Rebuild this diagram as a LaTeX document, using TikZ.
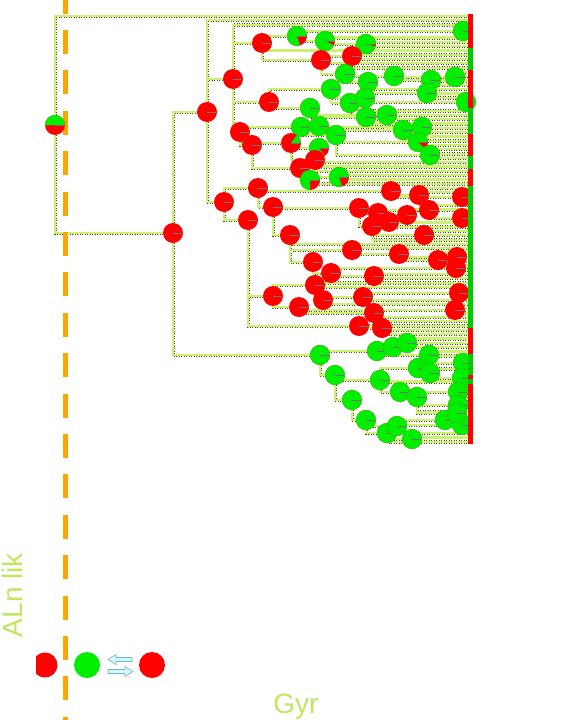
\documentclass[tikz,border=0pt]{standalone}
\usepackage{fontspec}
\setmainfont{Liberation Sans}
\definecolor{br}{RGB}{204,240,112}
\definecolor{brd}{RGB}{70,80,40}
\definecolor{pr}{RGB}{255,0,0}
\definecolor{pg}{RGB}{0,238,0}
\definecolor{lab}{RGB}{190,230,95}
\definecolor{org}{RGB}{255,165,0}
\definecolor{arf}{RGB}{215,248,248}
\definecolor{ard}{RGB}{110,185,195}
\tikzset{
  under/.style={brd, line width=3.3pt, dash pattern=on 1pt off 1.5pt},
  over/.style={br, line width=2.2pt},
  labtext/.style={lab, font=\fontsize{28}{30}\selectfont, inner sep=0pt},
  legdot/.style={circle, inner sep=0pt, minimum size=26pt},
  arrowshape/.style={draw=ard, fill=arf, line width=0.6pt, line join=miter}
}
\newcommand{\mypie}[4]{%
  \fill[pr] (#1) circle[radius=#3];
  \fill[pg] (#1) -- ++(0:#3) arc[start angle=0, end angle={-360*#2}, radius=#3] -- cycle;
  \draw[black!55, line width=0.5pt] (#1) -- ++(0:{0.85*#3});
}
\def\pielist{R0/55/125/0.5, N1/173/233/0, N2/207/112/0, N3/320/355/1, N5/224/202/0,
 p1/262/43/0, p2/297/36/0.8, p3/325/41/0.93, p4/366/44/0.96, p5/463/31/1, p6/321/60/0,
 p7/352/56/0, p8/233/79/0, p9/345/74/1, p10/368/82/1, p11/394/76/1, p12/431/80/1,
 p13/455/77/1, p14/331/89/1, p15/427/93/1, p16/466/102/1, p17/269/102/0, p18/350/103/1,
 p19/365/98/1, p20/310/108/1, p21/366/117/1, p22/387/115/1, p23/240/132/0, p24/252/145/0,
 p25/301/127/1, p26/319/126/1, p27/336/135/1, p28/403/130/1, p29/422/127/1, p30/418/142/0.88,
 p31/430/155/1, p32/291/143/0.15, p33/319/148/0.85, p34/300/168/0, p35/315/160/0,
 p36/310/180/0.75, p37/339/177/0.8,
 q1/258/188/0, q2/273/207/0, q3/248/220/0, q4/290/235/0, q5/391/191/0, q6/419/195/0,
 q7/462/197/0, q8/359/208/0, q9/378/213/0, q10/389/222/0, q11/372/226/0, q12/407/215/0,
 q13/429/210/0, q14/424/235/0, q15/462/218/0, q16/399/254/0, q17/352/250/0, q18/313/262/0,
 q19/331/273/0, q20/374/276/0, q21/438/260/0, q22/457/257/0, q23/456/268/0, q24/273/296/0,
 q25/299/307/0, q26/315/285/0, q27/323/300/0, q28/363/297/0, q29/374/313/0, q30/382/328/0,
 q31/359/326/0, q32/459/293/0, q33/455/310/0,
 r1/377/351/1, r2/393/347/1, r3/407/343/1, r4/429/355/1, r5/335/375/1, r6/380/380/1,
 r7/418/368/1, r8/430/373/1, r9/463/363/1, r10/462/378/1, r11/352/400/1, r12/400/392/1,
 r13/417/397/1, r14/458/392/1, r15/458/405/1, r16/366/420/1, r17/387/433/1, r18/397/426/1,
 r19/412/439/1, r20/445/420/1, r21/462/425/1, r22/457/413/1}
\def\edgelist{R0/N1, N1/N2, N1/N3, N2/p8, N2/N5, p8/p1, p8/p17, p8/p23, p1/p2, p1/p6,
 p2/p5, p2/p3, p3/p4, p6/p7, p6/p9, p9/p11, p9/p10, p11/p12, p11/p13, p10/p15, p17/p14,
 p17/p20, p14/p18, p14/p19, p19/p16, p20/p21, p20/p22, p23/p24, p23/p25, p25/p26, p25/p27,
 p26/p28, p26/p29, p27/p30, p27/p31, p24/p32, p24/p34, p32/p33, p32/p35, p34/p36, p34/p37,
 N5/q1, N5/q3, q1/q2, q1/q5, q5/q6, q5/q7, q2/q8, q2/q4, q8/q9, q8/q11, q9/q12, q9/q13,
 q13/q15, q11/q10, q11/q14, q4/q17, q4/q18, q17/q16, q16/q21, q16/q22, q18/q19, q19/q20,
 q19/q23, q3/q24, q3/q31, q24/q25, q24/q26, q26/q27, q26/q28, q28/q32, q25/q29, q25/q33,
 q31/q30,
 N3/r1, N3/r5, r1/r2, r1/r4, r2/r3, r5/r6, r5/r11, r6/r7, r6/r12, r7/r8, r7/r9, r8/r10,
 r12/r13, r12/r14, r13/r15, r13/r22, r11/r16, r16/r17, r16/r18, r18/r20, r18/r21, r17/r19}
\def\tiplist{0/R0/1, 1/N2/1, 2/p8/1, 3/p5/1, 4/p5/1, 5/p3/1, 6/p4/1, 7/p4/1, 8/p1/0,
 9/p7/0, 10/p7/0, 11/p6/0, 12/p9/0, 13/p13/1, 14/p13/1, 15/p12/1, 16/p12/1, 17/p10/1,
 18/p15/1, 19/p15/1, 20/p16/1, 21/p16/1, 22/p19/0, 23/p18/0, 24/p21/0, 25/p21/0, 26/p22/0,
 27/p29/0, 28/p29/1, 29/p28/1, 30/p30/1, 31/p30/1, 32/p31/1, 33/p31/0, 34/p33/0, 35/p35/0,
 36/p35/1, 37/p37/1, 38/p37/1, 39/p36/1, 40/q6/0, 41/q6/0, 42/q7/0, 43/q7/0, 44/q13/0,
 45/q12/0, 46/q15/0, 47/q15/0, 48/q10/0, 49/q10/0, 50/q14/0, 51/q14/0, 52/q11/0, 53/q4/0,
 54/q17/0, 55/q21/0, 56/q21/0, 57/q22/0, 58/q23/0, 59/q23/0, 60/q20/0, 61/q20/0, 62/q18/0,
 63/q26/0, 64/q32/0, 65/q32/0, 66/q28/0, 67/q27/0, 68/q33/0, 69/q33/0, 70/q29/0, 71/q29/0,
 72/q31/0, 73/q30/1, 74/q30/1, 75/r3/1, 76/r3/1, 77/r2/1, 78/r4/1, 79/r4/0, 80/r9/0,
 81/r9/0, 82/r8/0, 83/r10/0, 84/r10/1, 85/r6/0, 86/r14/1, 87/r14/1, 88/r15/1, 89/r15/1,
 90/r22/1, 91/r22/1, 92/r13/1, 93/r20/1, 94/r20/1, 95/r21/1, 96/r21/1, 97/r19/1, 98/r19/1,
 99/r17/1}
\begin{document}
\begin{tikzpicture}[x=1pt,y=-1pt]
\useasboundingbox (0,0) rectangle (561,720);
% coordinates
\foreach \n/\x/\y/\g in \pielist { \coordinate (\n) at (\x,\y); }
\foreach \i/\p/\c in \tiplist { \coordinate (t\i) at (470,{16+4.3*\i}); }
% branches: dark dotted edge then light fill
\foreach \a/\b in \edgelist { \draw[under, transform canvas={xshift=0.4pt,yshift=-0.4pt}] (\a) |- (\b); }
\foreach \i/\p/\c in \tiplist { \draw[under, transform canvas={xshift=0.4pt,yshift=-0.4pt}] (\p) |- (t\i); }
\foreach \a/\b in \edgelist { \draw[over] (\a) |- (\b); }
\foreach \i/\p/\c in \tiplist { \draw[over] (\p) |- (t\i); }
% time axis line
\draw[org, line width=5pt, dash pattern=on 24pt off 16.4pt] (65,-10.4) coordinate (oa) -- (65,730) coordinate (ob);
% pies
\foreach \n/\x/\y/\g in \pielist { \mypie{\n}{\g}{10}{} }
% tip state strip
\foreach \i/\p/\c in \tiplist {
  \ifnum\c=1 \fill[pr] ([xshift=-2pt,yshift=-2.2pt]t\i) rectangle ([xshift=2.5pt,yshift=2.2pt]t\i);
  \else \fill[pg!85!black] ([xshift=-2pt,yshift=-2.2pt]t\i) rectangle ([xshift=2.5pt,yshift=2.2pt]t\i); \fi
}
% labels
\node[labtext, anchor=base] (gyr) at (296,713) {Gyr};
\node[labtext, rotate=90, anchor=base] (lik) at (22,595) {ALn lik};
% legend
\begin{scope}
  \clip (36,640) rectangle (75,690);
  \fill[pr] (45,665) circle[radius=12.5];
\end{scope}
\coordinate (lr1) at (45,665);
\node[legdot, fill=pg] (lg) at (87,665) {};
\node[legdot, fill=pr] (lr2) at (152,665) {};
\draw[arrowshape] (108,659.5) -- (116,654.5) -- (116,657.5) -- (132,657.5) -- (132,661.5) -- (116,661.5) -- (116,664.5) -- cycle;
\draw[arrowshape] (133,671.5) -- (125,666.5) -- (125,669.5) -- (108,669.5) -- (108,673.5) -- (125,673.5) -- (125,676.5) -- cycle;
\end{tikzpicture}
\end{document}
